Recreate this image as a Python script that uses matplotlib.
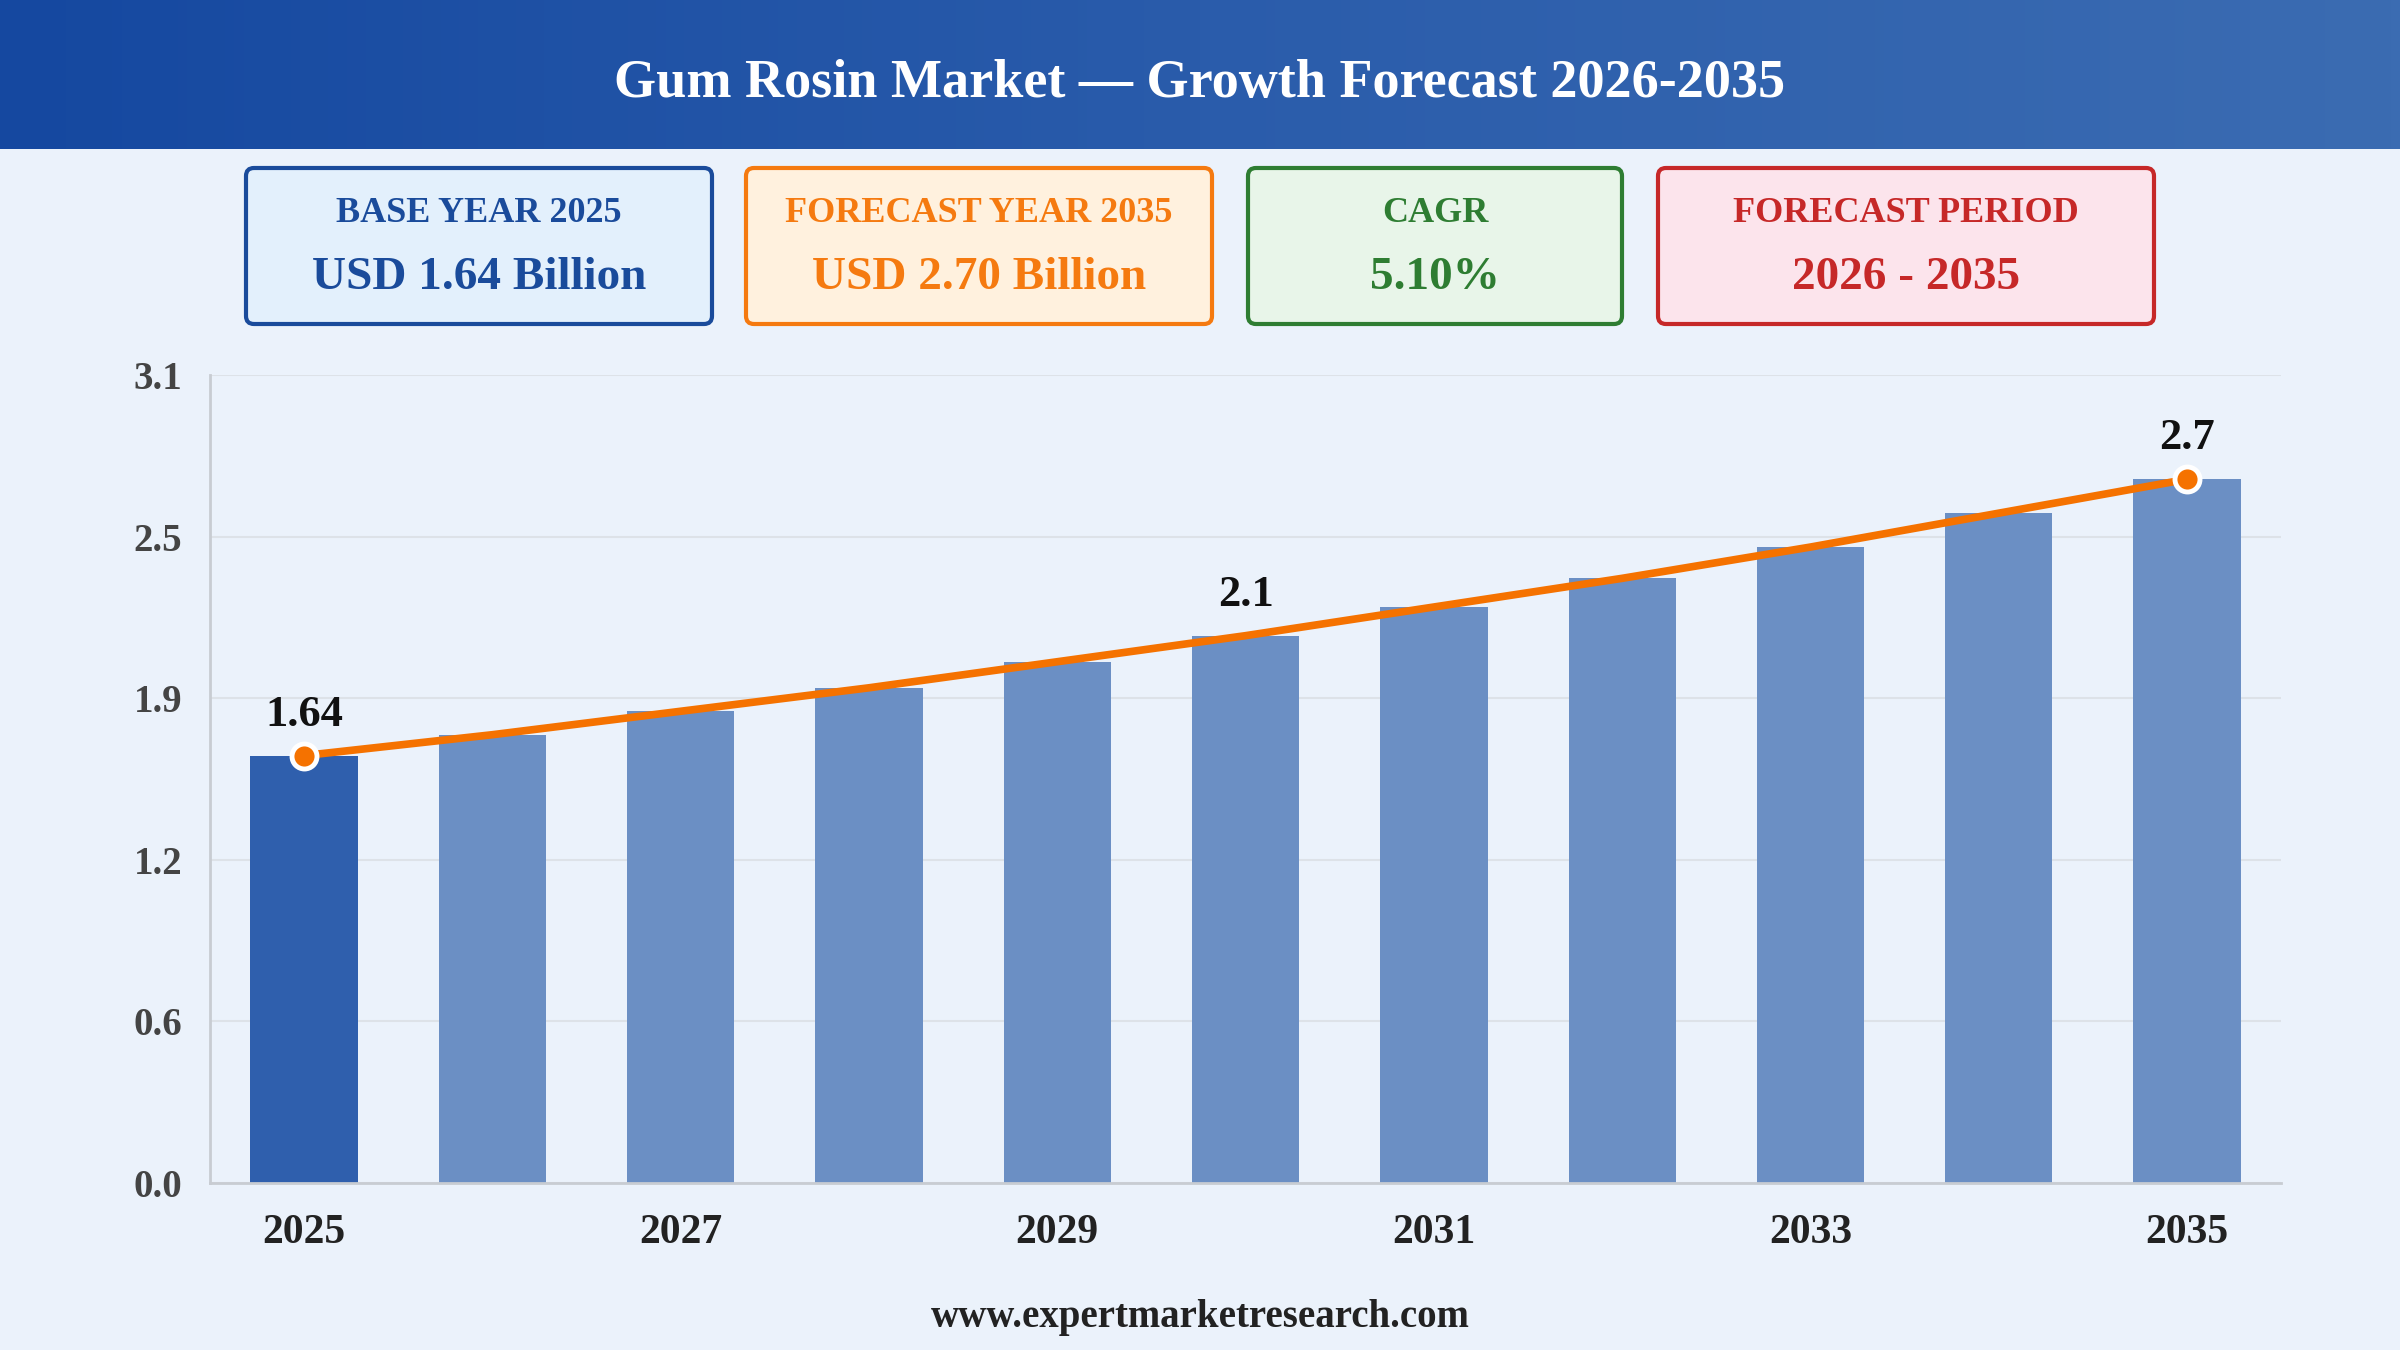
import numpy as np
import matplotlib
matplotlib.use('Agg')
import matplotlib.pyplot as plt
from matplotlib.patches import FancyBboxPatch
from matplotlib.ticker import FixedLocator, FormatStrFormatter

plt.rcParams['font.family'] = ['Liberation Serif', 'DejaVu Serif']
plt.rcParams['font.weight'] = 'bold'

# data
years = [2025, 2026, 2027, 2028, 2029, 2030, 2031, 2032, 2033, 2034, 2035]
market_size = [1.64, 1.72, 1.81, 1.90, 2.00, 2.10, 2.21, 2.32, 2.44, 2.57, 2.70]
labelled_years = [2025, 2030, 2035]
marker_years = [2025, 2035]
y_ticks = [0.0, 0.62, 1.24, 1.86, 2.48, 3.1]

title = 'Gum Rosin Market \u2014 Growth Forecast 2026-2035'
card_titles = ['BASE YEAR 2025', 'FORECAST YEAR 2035', 'CAGR', 'FORECAST PERIOD']
card_values = ['USD 1.64 Billion', 'USD 2.70 Billion', '5.10%', '2026 - 2035']
footer = 'www.expertmarketresearch.com'

bg = '#ebf2fb'
fig = plt.figure(figsize=(24, 13.5), dpi=100, facecolor=bg)

# background layer in pixel coordinates
bgax = fig.add_axes([0, 0, 1, 1])
bgax.set_xlim(0, 2400)
bgax.set_ylim(1350, 0)
bgax.axis('off')
bgax.set_zorder(-1)

# header gradient
grad = np.linspace(0, 1, 256).reshape(1, -1)
cmap = matplotlib.colors.LinearSegmentedColormap.from_list('hdr', ['#1548a0', '#2a5cab', '#3b6cb2'])
bgax.imshow(grad, cmap=cmap, aspect='auto', extent=[0, 2400, 149, 0])
bgax.text(1200, 84, title, color='white', fontsize=39, fontweight='bold',
          ha='center', va='center')

# info cards
cards = [
    (246, 712, '#e3f0fc', '#1a4b9b'),
    (746, 1212, '#fff1de', '#f57a10'),
    (1248, 1622, '#e8f5e9', '#2e7d32'),
    (1658, 2154, '#fce4ec', '#c62828'),
]
for (x0, x1, face, edge), head, val in zip(cards, card_titles, card_values):
    box = FancyBboxPatch((x0, 168), x1 - x0, 156,
                         boxstyle='round,pad=0,rounding_size=8',
                         facecolor=face, edgecolor=edge, linewidth=3)
    bgax.add_patch(box)
    cx = (x0 + x1) / 2
    bgax.text(cx, 214, head, color=edge, fontsize=26, fontweight='bold',
              ha='center', va='center')
    bgax.text(cx, 278, val, color=edge, fontsize=34, fontweight='bold',
              ha='center', va='center')

bgax.text(1200, 1317, footer, color='#222222', fontsize=28, fontweight='bold',
          ha='center', va='center')

# main chart
ax = fig.add_axes([0.0875, 0.1237, 0.863, 0.5985])
ax.set_facecolor('none')
x = np.arange(len(years))
colors = ['#2f5fad'] + ['#6b8fc4'] * (len(years) - 1)
ax.bar(x, market_size, width=0.57, color=colors, zorder=2)
ax.plot(x, market_size, color='#f57200', linewidth=5.5, zorder=3, solid_capstyle='round')

for yr in marker_years:
    i = years.index(yr)
    ax.plot(x[i], market_size[i], 'o', markersize=18, markerfacecolor='#f57200',
            markeredgecolor='white', markeredgewidth=3.5, zorder=4)

for yr in labelled_years:
    i = years.index(yr)
    ax.annotate(f'{market_size[i]:g}', (x[i], market_size[i]), xytext=(0, 15),
                textcoords='offset points', ha='center', va='bottom',
                fontsize=32, fontweight='bold', color='#111111', zorder=5)

ax.set_xlim(-0.5, len(years) - 0.5)
ax.set_ylim(0, 3.1)
ax.yaxis.set_major_locator(FixedLocator(y_ticks))
ax.yaxis.set_major_formatter(FormatStrFormatter('%.1f'))
ax.set_xticks(x[::2])
ax.set_xticklabels([str(y) for y in years[::2]])
ax.tick_params(axis='x', length=0, pad=22, labelsize=30, labelcolor='#222222')
ax.tick_params(axis='y', length=0, pad=20, labelsize=28, labelcolor='#444444')
ax.grid(axis='y', color='#dde2e8', linewidth=1.5, zorder=0)
for s in ['top', 'right']:
    ax.spines[s].set_visible(False)
for s in ['left', 'bottom']:
    ax.spines[s].set_color('#c8ccd2')
    ax.spines[s].set_linewidth(2)

fig.savefig('out.png', dpi=100, facecolor=bg)
